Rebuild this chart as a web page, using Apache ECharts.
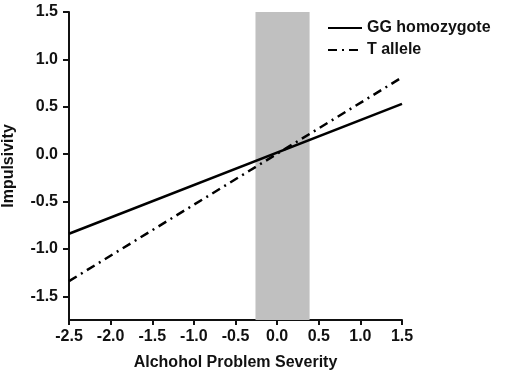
<!DOCTYPE html>
<html>
<head>
<meta charset="utf-8">
<script src="https://cdn.jsdelivr.net/npm/echarts@6/dist/echarts.min.js"></script>
<style>
  html, body { margin: 0; padding: 0; background: #fff; }
  #chart { width: 510px; height: 374px; }
</style>
</head>
<body>
<div id="chart"></div>
<script>
// line end points (x = alcohol problem severity)
var xEnds = [-2.5, 1.5];
var ggHomozygote = [-0.84, 0.53];
var tAllele = [-1.34, 0.81];
// shaded region of significance
var bandRange = [-0.26, 0.39];
var yTicks = [-1.5, -1.0, -0.5, 0.0, 0.5, 1.0, 1.5];

var font = "Liberation Sans";
var chart = echarts.init(document.getElementById("chart"));

function pairs(ys) {
  return xEnds.map(function (x, i) { return [x, ys[i]]; });
}

var option = {
  backgroundColor: "#fff",
  animation: false,
  grid: { left: 69, right: 108, top: 12, bottom: 54, outerBoundsMode: "none" },
  legend: {
    data: ["GG homozygote", "T allele"],
    orient: "vertical",
    left: 322,
    top: 15,
    itemWidth: 34,
    itemHeight: 12,
    itemGap: 6,
    itemStyle: { opacity: 0 },
    textStyle: { fontFamily: font, fontWeight: "bold", fontSize: 16, color: "#111" }
  },
  xAxis: {
    type: "value",
    min: -2.5,
    max: 1.5,
    interval: 0.5,
    name: "Alchohol Problem Severity",
    nameLocation: "middle",
    nameGap: 35,
    nameTextStyle: { fontFamily: font, fontWeight: "bold", fontSize: 16, color: "#111" },
    axisLine: { onZero: false, lineStyle: { color: "#111", width: 2 } },
    axisTick: { show: true, length: 5, lineStyle: { color: "#111", width: 2 } },
    axisLabel: {
      margin: 9,
      fontFamily: font, fontWeight: "bold", fontSize: 16, color: "#111",
      formatter: function (v) { return v.toFixed(1); }
    },
    splitLine: { show: false }
  },
  yAxis: {
    type: "value",
    min: -1.75,
    max: 1.5,
    name: "Impulsivity",
    nameLocation: "middle",
    nameGap: 52,
    nameTextStyle: { fontFamily: font, fontWeight: "bold", fontSize: 16, color: "#111" },
    axisLine: { show: true, onZero: false, lineStyle: { color: "#111", width: 2 } },
    axisTick: { show: true, length: 6, customValues: yTicks, lineStyle: { color: "#111", width: 2 } },
    axisLabel: {
      margin: 11,
      customValues: yTicks,
      fontFamily: font, fontWeight: "bold", fontSize: 16, color: "#111",
      formatter: function (v) { return v.toFixed(1); }
    },
    splitLine: { show: false }
  },
  series: [
    {
      name: "band",
      type: "line",
      data: [],
      z: 1,
      silent: true,
      markArea: {
        silent: true,
        itemStyle: { color: "#c0c0c0" },
        data: [[{ xAxis: bandRange[0] }, { xAxis: bandRange[1] }]]
      }
    },
    {
      name: "GG homozygote",
      type: "line",
      z: 3,
      symbol: "none",
      data: pairs(ggHomozygote),
      lineStyle: { color: "#000", width: 2.5, type: "solid" },
      itemStyle: { color: "#000" }
    },
    {
      name: "T allele",
      type: "line",
      z: 3,
      symbol: "none",
      data: pairs(tAllele),
      lineStyle: { color: "#000", width: 2.5, type: [9, 5, 2, 5] },
      itemStyle: { color: "#000" }
    }
  ]
};

chart.setOption(option);
</script>
</body>
</html>
